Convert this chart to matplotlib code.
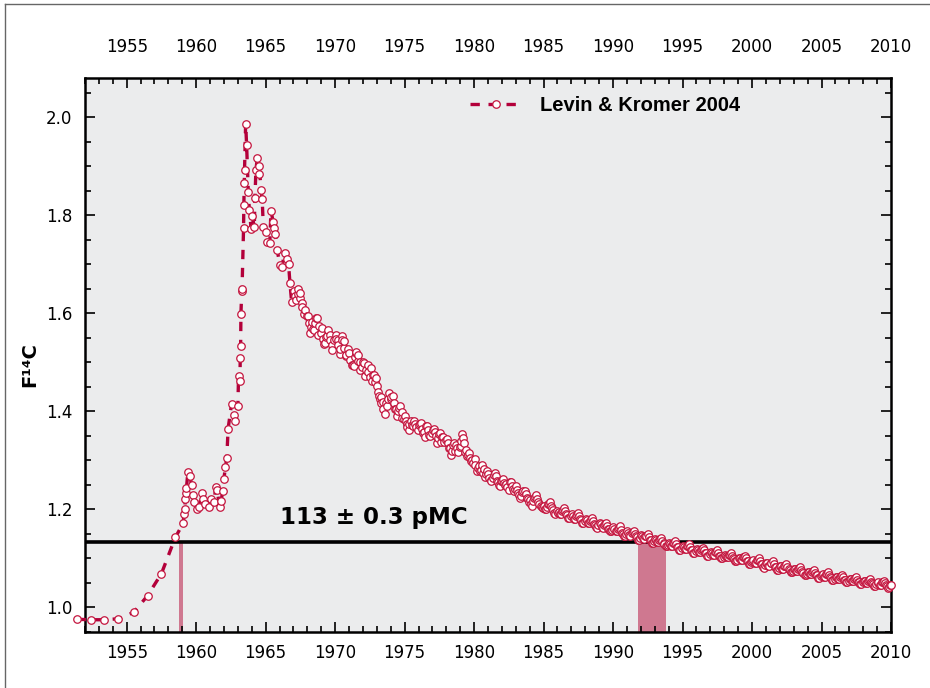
import matplotlib.pyplot as plt
from matplotlib.lines import Line2D
from matplotlib.ticker import MultipleLocator

# Levin & Kromer 2004 style atmospheric 14C record (decimal year, F14C)
pre_bomb = [
    (1951.4, 0.976), (1952.4, 0.975), (1953.4, 0.975), (1954.4, 0.977),
    (1955.5, 0.990), (1956.5, 1.024), (1957.5, 1.069), (1958.5, 1.143),
    (1959.07, 1.172), (1959.12, 1.190), (1959.18, 1.200), (1959.22, 1.222),
    (1959.27, 1.233), (1959.30, 1.243), (1959.40, 1.276), (1959.55, 1.269),
    (1959.67, 1.249), (1959.80, 1.229), (1959.86, 1.215), (1960.03, 1.200),
    (1960.20, 1.204), (1960.40, 1.233), (1960.50, 1.222), (1960.60, 1.212),
    (1960.90, 1.204), (1961.10, 1.222), (1961.30, 1.215), (1961.40, 1.246),
    (1961.50, 1.239), (1961.70, 1.205), (1961.80, 1.217), (1961.90, 1.237),
    (1962.00, 1.263), (1962.10, 1.286), (1962.20, 1.304), (1962.30, 1.365),
    (1962.55, 1.416), (1962.70, 1.392), (1962.80, 1.380), (1963.00, 1.410),
    (1963.05, 1.473), (1963.15, 1.462), (1963.17, 1.508),
]

bomb_peak = [
    (1963.20, 1.533), (1963.22, 1.599), (1963.28, 1.645), (1963.30, 1.649),
    (1963.41, 1.774), (1963.43, 1.820), (1963.46, 1.866), (1963.48, 1.892),
    (1963.56, 1.987), (1963.63, 1.943), (1963.75, 1.848), (1963.83, 1.810),
    (1963.95, 1.773), (1964.04, 1.798), (1964.18, 1.776), (1964.23, 1.836),
    (1964.30, 1.893), (1964.40, 1.916), (1964.50, 1.885), (1964.55, 1.900),
    (1964.66, 1.852), (1964.75, 1.834), (1964.83, 1.777), (1965.00, 1.765),
    (1965.07, 1.746), (1965.30, 1.744), (1965.38, 1.809), (1965.55, 1.786),
    (1965.60, 1.774), (1965.70, 1.761), (1965.83, 1.729), (1966.03, 1.698),
    (1966.15, 1.695), (1966.40, 1.724), (1966.55, 1.710), (1966.65, 1.700),
    (1966.75, 1.661), (1966.87, 1.623),
]

decline_60s_70s = [
    (1967.10, 1.635), (1967.30, 1.640), (1967.50, 1.642), (1967.65, 1.612),
    (1967.80, 1.606), (1967.95, 1.594),
    (1968.10, 1.580), (1968.25, 1.572), (1968.40, 1.568), (1968.55, 1.581),
    (1968.70, 1.590), (1968.85, 1.575),
    (1969.00, 1.560), (1969.15, 1.548), (1969.30, 1.540), (1969.45, 1.553),
    (1969.60, 1.556), (1969.75, 1.536), (1969.90, 1.545),
    (1970.05, 1.548), (1970.20, 1.535), (1970.35, 1.528), (1970.50, 1.545),
    (1970.65, 1.543), (1970.80, 1.515), (1970.95, 1.528),
    (1971.10, 1.505), (1971.25, 1.495), (1971.40, 1.510), (1971.50, 1.521),
    (1971.65, 1.515), (1971.80, 1.500), (1971.95, 1.490),
    (1972.10, 1.498), (1972.25, 1.485), (1972.40, 1.480), (1972.55, 1.488),
    (1972.70, 1.475), (1972.85, 1.460), (1972.95, 1.468),
    (1973.10, 1.440), (1973.20, 1.425), (1973.30, 1.430), (1973.45, 1.420),
    (1973.60, 1.395), (1973.75, 1.410), (1973.90, 1.438),
    (1974.05, 1.430), (1974.20, 1.418), (1974.35, 1.405), (1974.50, 1.400),
    (1974.65, 1.410), (1974.80, 1.398), (1974.95, 1.385),
    (1975.10, 1.380), (1975.20, 1.368), (1975.35, 1.375), (1975.50, 1.372),
    (1975.65, 1.380), (1975.80, 1.368), (1975.95, 1.362),
    (1976.10, 1.375), (1976.25, 1.365), (1976.40, 1.358), (1976.55, 1.370),
    (1976.70, 1.362), (1976.85, 1.350), (1976.95, 1.356),
    (1977.10, 1.365), (1977.25, 1.350), (1977.40, 1.345), (1977.55, 1.356),
    (1977.70, 1.348), (1977.85, 1.338), (1977.95, 1.342),
    (1978.10, 1.335), (1978.25, 1.325), (1978.40, 1.320), (1978.55, 1.335),
    (1978.70, 1.332), (1978.85, 1.318), (1978.95, 1.328),
    (1979.05, 1.340), (1979.15, 1.353), (1979.25, 1.335), (1979.40, 1.322),
    (1979.55, 1.312), (1979.70, 1.305), (1979.85, 1.300), (1979.95, 1.295),
]

decline_80s = [
    (1980.10, 1.290), (1980.25, 1.285), (1980.40, 1.278), (1980.55, 1.290),
    (1980.70, 1.283), (1980.85, 1.272), (1980.95, 1.278),
    (1981.10, 1.265), (1981.25, 1.258), (1981.40, 1.270), (1981.55, 1.268),
    (1981.70, 1.255), (1981.85, 1.248), (1981.95, 1.258),
    (1982.10, 1.262), (1982.25, 1.250), (1982.40, 1.245), (1982.55, 1.255),
    (1982.70, 1.248), (1982.85, 1.238), (1982.95, 1.242),
    (1983.10, 1.240), (1983.25, 1.230), (1983.40, 1.228), (1983.55, 1.238),
    (1983.70, 1.232), (1983.85, 1.222), (1983.95, 1.215),
    (1984.10, 1.212), (1984.25, 1.218), (1984.40, 1.225), (1984.55, 1.222),
    (1984.70, 1.212), (1984.85, 1.205), (1984.95, 1.203),
    (1985.10, 1.200), (1985.25, 1.205), (1985.40, 1.212), (1985.55, 1.208),
    (1985.70, 1.198), (1985.85, 1.190), (1985.95, 1.196),
    (1986.10, 1.195), (1986.25, 1.190), (1986.40, 1.198), (1986.55, 1.196),
    (1986.70, 1.188), (1986.85, 1.183), (1986.95, 1.186),
    (1987.10, 1.186), (1987.25, 1.180), (1987.40, 1.188), (1987.55, 1.186),
    (1987.70, 1.178), (1987.85, 1.172), (1987.95, 1.176),
    (1988.10, 1.178), (1988.25, 1.172), (1988.40, 1.179), (1988.55, 1.176),
    (1988.70, 1.168), (1988.85, 1.163), (1988.95, 1.168),
    (1989.10, 1.170), (1989.25, 1.163), (1989.40, 1.170), (1989.55, 1.167),
    (1989.70, 1.160), (1989.85, 1.155), (1989.95, 1.158),
]

decline_90s = [
    (1990.10, 1.160), (1990.25, 1.155), (1990.40, 1.162), (1990.55, 1.158),
    (1990.70, 1.150), (1990.85, 1.145), (1990.95, 1.149),
    (1991.10, 1.152), (1991.25, 1.146), (1991.40, 1.153), (1991.55, 1.150),
    (1991.70, 1.143), (1991.85, 1.138), (1991.95, 1.142),
    (1992.10, 1.145), (1992.25, 1.140), (1992.40, 1.146), (1992.55, 1.143),
    (1992.70, 1.137), (1992.85, 1.132), (1992.95, 1.135),
    (1993.10, 1.138), (1993.25, 1.133), (1993.40, 1.139), (1993.55, 1.136),
    (1993.70, 1.130), (1993.85, 1.125), (1993.95, 1.128),
    (1994.10, 1.130), (1994.25, 1.126), (1994.40, 1.132), (1994.55, 1.129),
    (1994.70, 1.123), (1994.85, 1.118), (1994.95, 1.121),
    (1995.10, 1.124), (1995.25, 1.120), (1995.40, 1.126), (1995.55, 1.123),
    (1995.70, 1.117), (1995.85, 1.112), (1995.95, 1.115),
    (1996.10, 1.118), (1996.25, 1.113), (1996.40, 1.119), (1996.55, 1.117),
    (1996.70, 1.111), (1996.85, 1.106), (1996.95, 1.109),
    (1997.10, 1.112), (1997.25, 1.108), (1997.40, 1.114), (1997.55, 1.111),
    (1997.70, 1.105), (1997.85, 1.100), (1997.95, 1.103),
    (1998.10, 1.106), (1998.25, 1.102), (1998.40, 1.108), (1998.55, 1.105),
    (1998.70, 1.099), (1998.85, 1.094), (1998.95, 1.097),
    (1999.10, 1.101), (1999.25, 1.097), (1999.40, 1.103), (1999.55, 1.100),
    (1999.70, 1.094), (1999.85, 1.089), (1999.95, 1.092),
]

decline_00s = [
    (2000.10, 1.096), (2000.25, 1.091), (2000.40, 1.097), (2000.55, 1.094),
    (2000.70, 1.088), (2000.85, 1.080), (2000.95, 1.086),
    (2001.10, 1.090), (2001.25, 1.085), (2001.40, 1.091), (2001.55, 1.088),
    (2001.70, 1.082), (2001.85, 1.077), (2001.95, 1.080),
    (2002.10, 1.084), (2002.25, 1.079), (2002.40, 1.085), (2002.55, 1.083),
    (2002.70, 1.077), (2002.85, 1.072), (2002.95, 1.075),
    (2003.10, 1.079), (2003.25, 1.074), (2003.40, 1.080), (2003.55, 1.077),
    (2003.70, 1.071), (2003.85, 1.066), (2003.95, 1.069),
    (2004.10, 1.073), (2004.25, 1.068), (2004.40, 1.074), (2004.55, 1.071),
    (2004.70, 1.066), (2004.85, 1.061), (2004.95, 1.064),
    (2005.10, 1.068), (2005.25, 1.063), (2005.40, 1.069), (2005.55, 1.066),
    (2005.70, 1.061), (2005.85, 1.057), (2005.95, 1.059),
    (2006.10, 1.063), (2006.25, 1.058), (2006.40, 1.064), (2006.55, 1.062),
    (2006.70, 1.057), (2006.85, 1.052), (2006.95, 1.055),
    (2007.10, 1.059), (2007.25, 1.054), (2007.40, 1.060), (2007.55, 1.057),
    (2007.70, 1.052), (2007.85, 1.048), (2007.95, 1.051),
    (2008.10, 1.055), (2008.25, 1.050), (2008.40, 1.056), (2008.55, 1.053),
    (2008.70, 1.048), (2008.85, 1.044), (2008.95, 1.047),
    (2009.10, 1.051), (2009.25, 1.046), (2009.40, 1.052), (2009.55, 1.049),
    (2009.70, 1.044), (2009.85, 1.041), (2009.95, 1.045),
    (2010.02, 1.045),
]

# additional samples taken in between (sampling phase within each year)
extra_phase = [0.03, 0.18, 0.33, 0.48, 0.63, 0.78]
extra_samples = [
    (1967, [1.645, 1.628, 1.650, 1.632, 1.622, 1.598]),
    (1968, [1.595, 1.560, 1.583, 1.565, 1.590, 1.555]),
    (1969, [1.570, 1.538, 1.552, 1.565, 1.545, 1.525]),
    (1970, [1.556, 1.545, 1.518, 1.553, 1.530, 1.512]),
    (1971, [1.520, 1.495, 1.492, 1.520, 1.503, 1.485]),
    (1972, [1.500, 1.472, 1.494, 1.470, 1.462, 1.474]),
    (1973, [1.452, 1.432, 1.418, 1.405, 1.418, 1.425]),
    (1974, [1.426, 1.432, 1.405, 1.390, 1.406, 1.386]),
    (1975, [1.390, 1.375, 1.362, 1.380, 1.370, 1.375]),
    (1976, [1.372, 1.376, 1.356, 1.347, 1.370, 1.352]),
    (1977, [1.362, 1.358, 1.336, 1.354, 1.338, 1.348]),
    (1978, [1.344, 1.326, 1.312, 1.332, 1.320, 1.326]),
    (1979, [1.330, 1.345, 1.318, 1.310, 1.315, 1.298]),
    (1980, [1.302, 1.278, 1.288, 1.280, 1.274, 1.266]),
    (1981, [1.272, 1.260, 1.264, 1.275, 1.258, 1.250]),
    (1982, [1.257, 1.253, 1.252, 1.240, 1.255, 1.241]),
    (1983, [1.248, 1.234, 1.223, 1.235, 1.238, 1.224]),
    (1984, [1.220, 1.208, 1.224, 1.230, 1.216, 1.206]),
    (1985, [1.208, 1.200, 1.212, 1.216, 1.202, 1.193]),
    (1986, [1.192, 1.191, 1.196, 1.202, 1.190, 1.183]),
    (1987, [1.190, 1.181, 1.186, 1.192, 1.180, 1.173]),
    (1988, [1.181, 1.173, 1.177, 1.183, 1.170, 1.164]),
    (1989, [1.173, 1.164, 1.168, 1.173, 1.161, 1.156]),
    (1990, [1.164, 1.155, 1.160, 1.166, 1.152, 1.146]),
    (1991, [1.155, 1.147, 1.152, 1.157, 1.145, 1.138]),
    (1992, [1.147, 1.141, 1.145, 1.150, 1.138, 1.132]),
    (1993, [1.139, 1.134, 1.138, 1.142, 1.131, 1.125]),
    (1994, [1.132, 1.126, 1.131, 1.135, 1.124, 1.118]),
    (1995, [1.125, 1.120, 1.125, 1.129, 1.118, 1.112]),
    (1996, [1.119, 1.114, 1.118, 1.122, 1.112, 1.106]),
    (1997, [1.113, 1.108, 1.113, 1.117, 1.106, 1.100]),
    (1998, [1.107, 1.102, 1.107, 1.111, 1.100, 1.094]),
    (1999, [1.101, 1.097, 1.102, 1.106, 1.095, 1.089]),
    (2000, [1.095, 1.091, 1.096, 1.100, 1.089, 1.082]),
    (2001, [1.090, 1.085, 1.090, 1.094, 1.083, 1.077]),
    (2002, [1.084, 1.079, 1.084, 1.088, 1.078, 1.072]),
    (2003, [1.078, 1.074, 1.079, 1.083, 1.072, 1.066]),
    (2004, [1.073, 1.068, 1.073, 1.077, 1.067, 1.061]),
    (2005, [1.067, 1.063, 1.068, 1.072, 1.062, 1.057]),
    (2006, [1.062, 1.058, 1.063, 1.067, 1.057, 1.052]),
    (2007, [1.058, 1.054, 1.059, 1.063, 1.053, 1.048]),
    (2008, [1.054, 1.050, 1.055, 1.059, 1.049, 1.044]),
    (2009, [1.050, 1.046, 1.051, 1.055, 1.045, 1.040]),
]

sample_level = 1.133         # 113 +/- 0.3 pMC
match_ranges = [(1958.75, 1959.05), (1991.8, 1993.8)]
label_text = '113 \u00b1 0.3 pMC'
series_name = 'Levin & Kromer 2004'

record = pre_bomb + bomb_peak + decline_60s_70s + decline_80s + decline_90s + decline_00s
for yr, vals in extra_samples:
    for ph, v in zip(extra_phase, vals):
        record.append((yr + ph, v))
record.sort()
years = [p[0] for p in record]
f14c = [p[1] for p in record]

red_line = '#b3003a'
red_mark = '#c4163f'
bar_col = '#cf7890'

fig = plt.figure(figsize=(9.3, 6.88), dpi=100)
ax = fig.add_axes([85/930, 1-632/688, 806/930, 554/688])
ax.set_facecolor('#ebeced')

for a, b in match_ranges:
    ax.fill_between([a, b], 0.95, sample_level, color=bar_col, lw=0, zorder=1)

ax.axhline(sample_level, color='black', lw=2.6, zorder=2)

ax.plot(years, f14c, color=red_line, lw=2.4, dashes=(2.8, 2.6),
        marker='o', ms=5.4, mfc='white', mec=red_mark, mew=0.9,
        clip_on=False, zorder=3, label=series_name)

ax.text(1966.0, 1.184, label_text, fontsize=16.5, fontweight='bold',
        family='DejaVu Sans', va='center', ha='left')

ax.set_xlim(1952, 2010)
ax.set_ylim(0.95, 2.08)
ax.xaxis.set_major_locator(MultipleLocator(5))
ax.xaxis.set_minor_locator(MultipleLocator(1))
ax.yaxis.set_minor_locator(MultipleLocator(0.05))
ax.set_yticks([1.0, 1.2, 1.4, 1.6, 1.8, 2.0])
ax.set_yticklabels(['1.0', '1.2', '1.4', '1.6', '1.8', '2.0'])
ax.set_xticks(list(range(1955, 2011, 5)))

ax.tick_params(which='both', direction='in', top=True, right=True,
               labeltop=False, width=1.2, labelsize=12, colors='black')
ax.tick_params(which='major', length=7, pad=9)
ax.tick_params(which='minor', length=4)

# year labels along the top, a bit further from the frame
top = ax.secondary_xaxis('top')
top.set_xticks(list(range(1955, 2011, 5)))
top.tick_params(length=0, pad=15.5, labelsize=12)
top.spines['top'].set_visible(False)

for s in ax.spines.values():
    s.set_linewidth(1.8)

fig.text(30/930, 1-365/688, 'F\u00b9\u2074C', rotation=90, fontsize=14,
         fontweight='bold', va='center', ha='center')

ax.legend(loc='center left', bbox_to_anchor=(0.455, 0.951), frameon=False,
          handlelength=2.6, handletextpad=0.9, numpoints=1,
          prop={'family': 'Liberation Sans', 'weight': 'bold', 'size': 14.5})

fig.add_artist(Line2D([5/930, 5/930], [0, 1-4/688], color='#666666', lw=1))
fig.add_artist(Line2D([5/930, 1], [1-4/688, 1-4/688], color='#666666', lw=1))

fig.savefig('out.png', dpi=100)
